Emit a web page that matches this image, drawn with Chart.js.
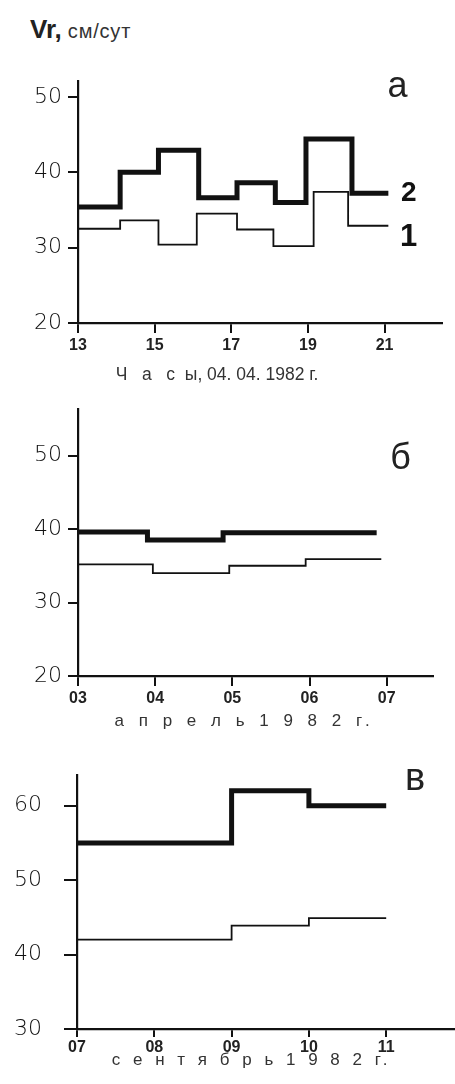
<!DOCTYPE html>
<html>
<head>
<meta charset="utf-8">
<script src="https://cdn.jsdelivr.net/npm/chart.js@4"></script>
<style>
  html, body { margin: 0; padding: 0; background: #fff; }
  #page { position: relative; width: 455px; height: 1084px; overflow: hidden; font-family: "Liberation Sans", Arial, sans-serif; color: #222; }
  #title { position: absolute; left: 30px; top: 14px; white-space: nowrap; }
  #title b { font-size: 26px; }
  #title span { font-size: 20px; margin-left: 6px; color: #333; letter-spacing: 0.8px; }
  canvas { position: absolute; left: 0; }
</style>
</head>
<body>
<div id="page">
  <div id="title"><b>Vr,</b><span>см/сут</span></div>
  <canvas id="chartA" width="455" height="330" style="top:60px"></canvas>
  <canvas id="chartB" width="455" height="350" style="top:390px"></canvas>
  <canvas id="chartC" width="455" height="344" style="top:740px"></canvas>
</div>
<script>
// а) часы, 04.04.1982
const hoursTicks = [13, 15, 17, 19, 21];
const hoursY = [20, 30, 40, 50];
const hoursEdges2 = [13, 14.1, 15.1, 16.15, 17.15, 18.15, 18.95, 20.15, 21.1];
const hoursVr2 = [35.4, 40.0, 42.9, 36.6, 38.6, 36.0, 44.4, 37.2];
const hoursEdges1 = [13, 14.1, 15.1, 16.1, 17.15, 18.1, 19.15, 20.05, 21.1];
const hoursVr1 = [32.5, 33.6, 30.4, 34.5, 32.4, 30.2, 37.4, 32.9];

// б) апрель 1982
const aprTicks = [3, 4, 5, 6, 7];
const aprY = [20, 30, 40, 50];
const aprEdges2 = [3, 3.9, 4.88, 6.87];
const aprVr2 = [39.6, 38.5, 39.5];
const aprEdges1 = [3, 3.97, 4.96, 5.95, 6.93];
const aprVr1 = [35.2, 34.0, 35.0, 35.9];

// в) сентябрь 1982
const sepTicks = [7, 8, 9, 10, 11];
const sepY = [30, 40, 50, 60];
const sepEdges2 = [7, 9, 10, 11];
const sepVr2 = [55.0, 62.0, 60.0];
const sepEdges1 = [7, 9, 10, 11];
const sepVr1 = [42.0, 43.9, 44.9];

// ступеньки: точка на каждой границе интервала
function toSteps(edges, values) {
  return edges.map((e, i) => ({ x: e, y: values[Math.min(i, values.length - 1)] }));
}

// подписи (буквы панелей, номера кривых, подписи осей)
const textNotes = {
  id: 'textNotes',
  afterDraw(chart, args, opts) {
    const { ctx } = chart;
    const x = chart.scales.x, y = chart.scales.y;
    (opts.items || []).forEach(it => {
      ctx.save();
      ctx.font = it.font;
      ctx.fillStyle = it.color || '#111';
      ctx.textAlign = 'center';
      ctx.textBaseline = 'middle';
      if (it.spacing) ctx.letterSpacing = it.spacing + 'px';
      ctx.fillText(it.text, x.getPixelForValue(it.x), y.getPixelForValue(it.y));
      ctx.restore();
    });
  }
};

const FONT = '"Liberation Sans", Arial, sans-serif';

function makePanel(id, p) {
  new Chart(document.getElementById(id), {
    type: 'line',
    data: {
      datasets: [
        { data: toSteps(p.edges2, p.vr2), borderColor: '#111', borderWidth: 5 },
        { data: toSteps(p.edges1, p.vr1), borderColor: '#111', borderWidth: 1.8 }
      ]
    },
    options: {
      responsive: false,
      animation: false,
      devicePixelRatio: 1,
      layout: { autoPadding: false, padding: { top: p.padTop, right: p.padRight, left: 0, bottom: 0 } },
      elements: {
        line: { stepped: 'before', borderCapStyle: 'butt', borderJoinStyle: 'miter', fill: false },
        point: { radius: 0 }
      },
      plugins: {
        legend: { display: false },
        tooltip: { enabled: false },
        textNotes: { items: p.notes }
      },
      scales: {
        x: {
          type: 'linear',
          min: p.xMin, max: p.xMax,
          afterFit: s => { s.height = p.xHeight; },
          afterBuildTicks: s => { s.ticks = p.xTicks.map(v => ({ value: v })); },
          border: { color: '#111', width: 2.2 },
          grid: { drawOnChartArea: false, drawTicks: true, tickLength: p.xTickLen, color: '#111', lineWidth: 2 },
          ticks: {
            padding: p.xPad,
            color: '#222',
            font: { family: FONT, size: 16, weight: 'bold' },
            maxRotation: 0,
            callback: v => p.pad ? String(v).padStart(2, '0') : String(v)
          }
        },
        y: {
          min: p.yMin, max: p.yMax,
          afterFit: s => { s.width = p.yWidth; },
          afterBuildTicks: s => { s.ticks = p.yTicks.map(v => ({ value: v })); },
          border: { color: '#111', width: 2.2 },
          grid: { drawOnChartArea: false, drawTicks: true, tickLength: p.yTickLen, color: '#111', lineWidth: 2 },
          ticks: {
            padding: p.yPad,
            color: '#111',
            font: { family: '"DejaVu Sans", sans-serif', size: 22, weight: 200 }
          }
        }
      }
    },
    plugins: [textNotes]
  });
}

makePanel('chartA', {
  edges2: hoursEdges2, vr2: hoursVr2, edges1: hoursEdges1, vr1: hoursVr1,
  xTicks: hoursTicks, yTicks: hoursY, pad: false,
  xMin: 13, xMax: 22.5, yMin: 20, yMax: 52.1,
  padTop: 21, padRight: 13, xHeight: 67, yWidth: 78, yTickLen: 10, yPad: 6, xTickLen: 10, xPad: 3,
  notes: [
    { text: 'а', x: 21.34, y: 51.3, font: '36px ' + FONT, color: '#222' },
    { text: '2', x: 21.63, y: 37.2, font: 'bold 28px ' + FONT },
    { text: '1', x: 21.63, y: 31.3, font: 'bold 31px ' + FONT },
    { text: 'Ч   а   с  ы, 04. 04. 1982 г.', x: 16.63, y: 13.1, font: '17.5px ' + FONT, color: '#333' }
  ]
});

makePanel('chartB', {
  edges2: aprEdges2, vr2: aprVr2, edges1: aprEdges1, vr1: aprVr1,
  xTicks: aprTicks, yTicks: aprY, pad: true,
  xMin: 3, xMax: 7.6, yMin: 20, yMax: 56.3,
  padTop: 11, padRight: 22, xHeight: 64, yWidth: 78, yTickLen: 10, yPad: 6, xTickLen: 10, xPad: 3,
  notes: [
    { text: 'б', x: 7.18, y: 49.5, font: '36px ' + FONT, color: '#222' },
    { text: 'а п р е л ь 1 9 8 2 г.', x: 5.16, y: 13.8, font: '17px ' + FONT, color: '#333', spacing: 5 }
  ]
});

makePanel('chartC', {
  edges2: sepEdges2, vr2: sepVr2, edges1: sepEdges1, vr1: sepVr1,
  xTicks: sepTicks, yTicks: sepY, pad: true,
  xMin: 7, xMax: 11.89, yMin: 30, yMax: 64.1,
  padTop: 32, padRight: 0, xHeight: 55, yWidth: 77, yTickLen: 13, yPad: 22, xTickLen: 8, xPad: 1,
  notes: [
    { text: 'в', x: 11.375, y: 63.5, font: '38px ' + FONT, color: '#222' },
    { text: 'с е н т я б р ь 1 9 8 2 г.', x: 9.26, y: 25.8, font: '17px ' + FONT, color: '#333', spacing: 4 }
  ]
});
</script>
</body>
</html>
